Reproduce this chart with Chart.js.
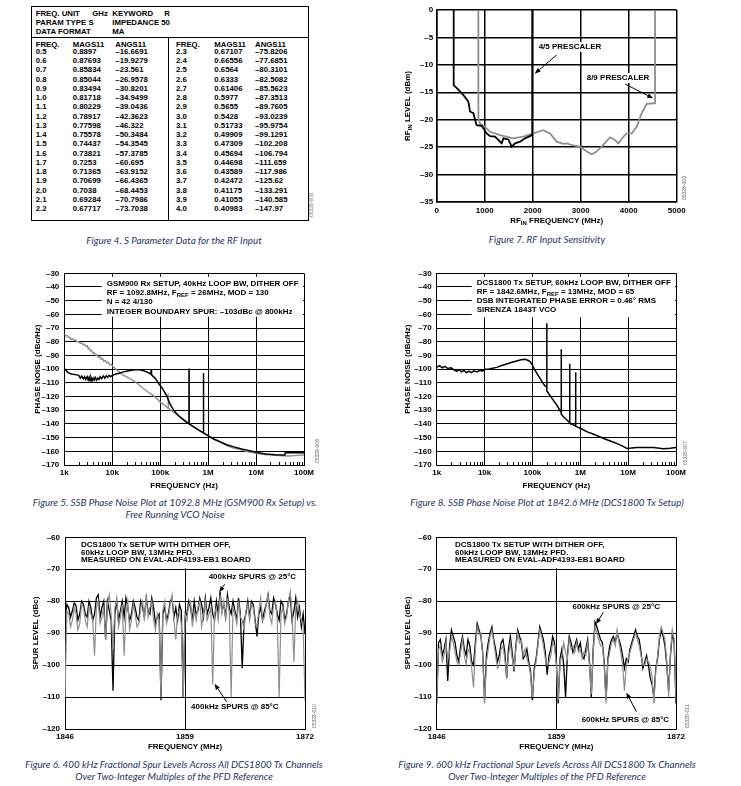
<!DOCTYPE html>
<html>
<head>
<meta charset="utf-8">
<script src="https://cdn.jsdelivr.net/npm/chart.js@4.4.1/dist/chart.umd.min.js"></script>
<style>
  body { margin: 0; width: 741px; height: 786px; background: #fff; position: relative; overflow: hidden;
         font-family: 'Liberation Sans', Arial, Helvetica, sans-serif; }
  canvas { position: absolute; }
  .t { position: absolute; font-weight: bold; font-size: 7.8px; line-height: 10px; white-space: nowrap; color: #000; }
  .cap { position: absolute; font-family: Lato, 'Liberation Sans', sans-serif; font-style: italic; font-size: 9.8px;
         line-height: 12px; color: #1f3560; white-space: nowrap; transform: translateX(-50%); }
  .id { position: absolute; font-size: 5px; line-height: 5px; color: #666; white-space: nowrap;
        transform: rotate(-90deg); transform-origin: left top; }
  .line { position: absolute; background: #000; }
</style>
</head>
<body>
<canvas id="c7"></canvas>
<canvas id="c5"></canvas>
<canvas id="c8"></canvas>
<canvas id="c6"></canvas>
<canvas id="c9"></canvas>

<script>
// ---- Figure 4: S parameter table ----
const sFreq = [0.5, 0.6, 0.7, 0.8, 0.9, 1.0, 1.1, 1.2, 1.3, 1.4, 1.5, 1.6, 1.7, 1.8, 1.9, 2.0, 2.1, 2.2,
  2.3, 2.4, 2.5, 2.6, 2.7, 2.8, 2.9, 3.0, 3.1, 3.2, 3.3, 3.4, 3.5, 3.6, 3.7, 3.8, 3.9, 4.0];
const sMag = [0.8897, 0.87693, 0.85834, 0.85044, 0.83494, 0.81718, 0.80229, 0.78917, 0.77598, 0.75578,
  0.74437, 0.73821, 0.7253, 0.71365, 0.70699, 0.7038, 0.69284, 0.67717, 0.67107, 0.66556, 0.6564, 0.6333,
  0.61406, 0.5977, 0.5655, 0.5428, 0.51733, 0.49909, 0.47309, 0.45694, 0.44698, 0.43589, 0.42472, 0.41175,
  0.41055, 0.40983];
const sAng = [-16.6691, -19.9279, -23.561, -26.9578, -30.8201, -34.9499, -39.0436, -42.3623, -46.322,
  -50.3484, -54.3545, -57.3785, -60.695, -63.9152, -66.4365, -68.4453, -70.7986, -73.7038, -75.8206,
  -77.6851, -80.3101, -82.5082, -85.5623, -87.3513, -89.7605, -93.0239, -95.9754, -99.1291, -102.208,
  -106.794, -111.659, -117.986, -125.62, -133.291, -140.585, -147.97];

// ---- Figure 7: RF input sensitivity [MHz, dBm] ----
const rfSens45 = [[354, 0], [354, -13.7], [451, -14.5], [556, -15.5], [660, -16.7], [694, -18.5], [764, -18.8],
  [799, -20], [833, -21], [937, -21.1], [1042, -22.5], [1111, -23], [1215, -23.1], [1285, -23.7], [1354, -24.3],
  [1389, -23.4], [1493, -23.6], [1563, -24.9], [1632, -24.3], [1736, -24], [1840, -23.4], [1990, -22.8], [1990, 0]];
const rfSens89 = [[868, 0], [868, -19.7], [903, -20.7], [1007, -21.3], [1111, -22.2], [1319, -22.8], [1597, -23.4],
  [1806, -23.1], [2014, -22.5], [2222, -21.9], [2361, -22.5], [2500, -24], [2639, -24.4], [2708, -24.3],
  [2847, -24.7], [2986, -24.9], [3125, -25.8], [3229, -26.3], [3333, -25.8], [3472, -24.6], [3611, -23.2],
  [3715, -23.7], [3785, -24.3], [3889, -23.1], [3958, -22.5], [4063, -22.5], [4167, -21.3], [4271, -18.8],
  [4375, -17.1], [4528, -17], [4549, -17], [4549, 0]];
const rfFreqTicks = [0, 1000, 2000, 3000, 4000, 5000];
const rfLevelTicks = [0, -5, -10, -15, -20, -25, -30, -35];

// ---- Figures 5 and 8: phase noise [Hz, dBc/Hz] ----
const pnTicks = [1e3, 1e4, 1e5, 1e6, 1e7, 1e8];
const pnTickLabels = ['1k', '10k', '100k', '1M', '10M', '100M'];
const pnLevels = [-30, -40, -50, -60, -70, -80, -90, -100, -110, -120, -130, -140, -150, -160, -170];
const gsmPll = [[1000, -99.5], [1100, -101], [1200, -102.5], [1400, -103.5], [1700, -104], [2000, -104.5],
  [2150, -106.5], [2300, -105], [2500, -107], [2650, -105.5], [2800, -107.5], [3000, -105.5], [3150, -108],
  [3300, -106], [3450, -108.5], [3600, -106], [3800, -108.5], [4000, -106.5], [4200, -108], [4400, -106],
  [4700, -108], [5000, -106.5], [5300, -107.5], [5600, -105.5], [6000, -107], [6500, -105], [7000, -106.5],
  [7500, -104.8], [8000, -106], [8600, -104.5], [9200, -105.5], [10000, -104.5], [12000, -103.5],
  [14000, -103], [17000, -102], [20000, -101.5], [25000, -100.8], [30000, -100.5], [37000, -100.5],
  [45000, -101.2], [52000, -102], [60000, -103], [64000, -103.8], [65000, -100], [66000, -104.2],
  [75000, -106], [84000, -108], [95000, -111], [106000, -113], [120000, -116], [135000, -119],
  [158000, -125], [180000, -128.5], [201000, -131], [240000, -134], [280000, -136], [330000, -138],
  [383000, -139.6], [398000, -140], [400000, -99.5], [402000, -140], [460000, -141.5], [520000, -142.5],
  [600000, -144], [700000, -145.5], [795000, -146.5], [800000, -103], [805000, -146.6], [900000, -147.7],
  [1000000, -148.6], [1300000, -151], [1750000, -153], [2400000, -155], [3300000, -156.6],
  [5000000, -158.3], [7300000, -159.5], [10000000, -160.7], [16000000, -162], [25000000, -162.5],
  [40000000, -162.7], [40500000, -161], [60000000, -161], [100000000, -161]];
const gsmVco = [[1000, -74.3], [1080, -75.8], [1150, -75.5], [1230, -77], [1300, -76.8], [1400, -78.2],
  [1500, -77.8], [1600, -79.2], [1700, -78.6], [1850, -80.2], [2000, -79.8], [2150, -81.2], [2300, -80.8],
  [2450, -82.2], [2600, -81.6], [2800, -83.2], [3000, -82.8], [3150, -85], [3300, -84.6], [3500, -86.6],
  [3700, -86.2], [3950, -88.4], [4200, -87.8], [4500, -89.8], [4800, -89.4], [5100, -91.4], [5500, -90.8],
  [5900, -92.8], [6300, -92.4], [6700, -94.2], [7200, -93.6], [7700, -95.4], [8300, -95], [8900, -96.8],
  [9500, -96.4], [10500, -98.2], [12000, -100], [14000, -102], [17000, -104.3], [21000, -106],
  [27500, -108.4], [35000, -111], [44000, -114], [55000, -116.5], [70000, -119], [85000, -121.5],
  [98000, -123.7], [115000, -125.5], [135000, -127.4], [146000, -128.5], [147000, -118], [148000, -128.6],
  [175000, -130.5], [218000, -132.7], [280000, -135.5], [356000, -138.3], [450000, -140.8],
  [574000, -143.2], [750000, -146], [1000000, -148.6], [1300000, -151], [1750000, -153], [2500000, -156],
  [3500000, -157.8], [4600000, -158.6], [6500000, -160.2], [10000000, -161.5], [15000000, -162.3],
  [22000000, -162.7], [35000000, -163.2], [50000000, -163.4], [70000000, -163], [100000000, -162.7]];
const dcsPll = [[1000, -98.5], [1150, -97.5], [1300, -99], [1500, -98], [1700, -99.5], [2000, -99],
  [2300, -100.5], [2600, -101.5], [3000, -100.5], [3300, -102], [3700, -101], [4200, -102.5], [4700, -101.5],
  [5300, -102.5], [6000, -101.2], [7000, -102], [8000, -100.8], [9000, -101.5], [10200, -100.1], [12000, -100],
  [14000, -99.5], [17900, -98.7], [22000, -97.5], [29000, -96.2], [36000, -95.2], [46800, -94], [58000, -93.2],
  [70000, -92.8], [80000, -93.5], [89000, -94.5], [100000, -97], [112000, -100.6], [128000, -103.8],
  [144000, -106.7], [165000, -110], [183000, -112.3], [199500, -113], [200000, -66.5], [200500, -116],
  [220000, -118], [252000, -121], [290000, -124], [320000, -126], [360000, -129], [398000, -131.5],
  [400000, -85.5], [402000, -133], [450000, -135], [519000, -137], [595000, -139], [600000, -96],
  [605000, -139.3], [700000, -140.5], [795000, -141.5], [800000, -102.3], [805000, -141.6], [900000, -142.5],
  [1050000, -143.5], [1400000, -145.8], [1850000, -147.4], [3000000, -150.5], [5300000, -153.7],
  [7500000, -156], [9300000, -157.8], [10000000, -158], [12000000, -157.5], [15000000, -157.3],
  [25000000, -157.3], [34000000, -157.3], [54000000, -158.2], [75000000, -157.8], [100000000, -157.3]];

// ---- Figures 6 and 9: fractional spurs across channels, 200kHz raster ----
const spurFreq = [
  1846.0, 1846.2, 1846.4, 1846.6, 1846.8, 1847.0, 1847.2, 1847.4, 1847.6, 1847.8,
  1848.0, 1848.2, 1848.4, 1848.6, 1848.8, 1849.0, 1849.2, 1849.4, 1849.6, 1849.8,
  1850.0, 1850.2, 1850.4, 1850.6, 1850.8, 1851.0, 1851.2, 1851.4, 1851.6, 1851.8,
  1852.0, 1852.2, 1852.4, 1852.6, 1852.8, 1853.0, 1853.2, 1853.4, 1853.6, 1853.8,
  1854.0, 1854.2, 1854.4, 1854.6, 1854.8, 1855.0, 1855.2, 1855.4, 1855.6, 1855.8,
  1856.0, 1856.2, 1856.4, 1856.6, 1856.8, 1857.0, 1857.2, 1857.4, 1857.6, 1857.8,
  1858.0, 1858.2, 1858.4, 1858.6, 1858.8, 1859.0, 1859.2, 1859.4, 1859.6, 1859.8,
  1860.0, 1860.2, 1860.4, 1860.6, 1860.8, 1861.0, 1861.2, 1861.4, 1861.6, 1861.8,
  1862.0, 1862.2, 1862.4, 1862.6, 1862.8, 1863.0, 1863.2, 1863.4, 1863.6, 1863.8,
  1864.0, 1864.2, 1864.4, 1864.6, 1864.8, 1865.0, 1865.2, 1865.4, 1865.6, 1865.8,
  1866.0, 1866.2, 1866.4, 1866.6, 1866.8, 1867.0, 1867.2, 1867.4, 1867.6, 1867.8,
  1868.0, 1868.2, 1868.4, 1868.6, 1868.8, 1869.0, 1869.2, 1869.4, 1869.6, 1869.8,
  1870.0, 1870.2, 1870.4, 1870.6, 1870.8, 1871.0, 1871.2, 1871.4, 1871.6, 1871.8,
  1872.0];
const spur400k25 = [
  -88, -81, -82, -85, -83, -80.5, -81.5, -86, -84, -80,
  -81, -84, -85, -80, -82, -86, -84, -79, -78, -85,
  -82, -80, -92, -80, -83, -86, -108, -84, -80, -86,
  -83, -80, -85, -79, -82, -86, -84, -80, -82, -85,
  -86, -80, -82, -85, -79, -83, -84, -79, -82, -87,
  -85, -84, -111, -84, -82, -86, -84, -80, -79, -85,
  -82, -86, -81, -83, -110, -85, -84, -80, -82, -86,
  -80, -84, -83, -79, -81, -85, -79, -84, -82, -79,
  -84, -86, -80, -84, -77, -83, -81, -85, -78, -82,
  -84, -80, -83, -86, -79, -84, -101, -86, -84, -80,
  -85, -80, -81, -86, -91, -84, -82, -86, -83, -81,
  -78, -83, -84, -79, -81, -84, -86, -80, -81, -86,
  -84, -80, -78, -86, -83, -79, -85, -82, -88, -84,
  -90];
const spur400k85 = [
  -110, -83, -84, -88, -86, -82, -84, -89, -87, -81,
  -82, -86, -88, -82, -84, -86, -97, -82, -80, -87,
  -85, -82, -92, -81, -78, -84, -95, -82, -79, -88,
  -85, -81, -97, -84, -80, -89, -86, -81, -84, -88,
  -87, -82, -80, -86, -78, -85, -82, -80, -86, -89,
  -84, -86, -110, -83, -80, -87, -85, -81, -78, -86,
  -92, -84, -83, -87, -110, -84, -86, -81, -80, -88,
  -83, -86, -82, -80, -88, -84, -80, -86, -84, -82,
  -106, -84, -82, -86, -78, -84, -80, -86, -79, -84,
  -110, -82, -84, -87, -80, -85, -86, -89, -83, -81,
  -86, -81, -82, -87, -88, -83, -79, -86, -85, -81,
  -78, -85, -87, -81, -80, -86, -110, -84, -82, -87,
  -85, -80, -77, -84, -99, -82, -80, -84, -86, -88,
  -111];
const spur600k25 = [
  -112, -93, -92, -97, -95, -92, -105, -94, -89, -91,
  -93, -97, -99, -94, -91, -95, -97, -92, -94, -99,
  -100, -93, -87, -89, -91, -96, -111, -97, -93, -90,
  -88, -92, -95, -99, -97, -93, -92, -96, -104, -95,
  -91, -96, -102, -94, -89, -91, -93, -98, -97, -95,
  -99, -102, -111, -101, -98, -93, -88, -90, -92, -96,
  -103, -97, -95, -91, -93, -99, -112, -98, -95, -100,
  -110, -97, -91, -93, -96, -94, -92, -95, -93, -97,
  -98, -95, -92, -99, -110, -95, -86.5, -88, -90, -92,
  -93, -99, -111, -98, -94, -92, -91, -93, -90, -92,
  -94, -97, -101, -98, -99, -95, -93, -91, -89, -91,
  -92, -96, -101, -99, -97, -100, -104, -106, -110, -101,
  -98, -92, -89, -91, -94, -100, -108, -97, -90, -93,
  -112];
const spur600k85 = [
  -112, -95, -94, -99, -97, -93, -98, -96, -91, -93,
  -96, -99, -100, -96, -92, -97, -100, -95, -96, -101,
  -107, -95, -88, -90, -90, -97, -112, -99, -95, -91,
  -89, -93, -97, -101, -100, -95, -94, -98, -103, -97,
  -93, -98, -101, -95, -90, -93, -92, -97, -95, -98,
  -100, -103, -110, -102, -99, -94, -89, -91, -94, -98,
  -100, -99, -97, -93, -94, -100, -111, -99, -97, -93,
  -96, -98, -92, -95, -94, -96, -93, -96, -95, -98,
  -96, -97, -93, -100, -109, -96, -88, -90, -92, -94,
  -94, -100, -112, -99, -96, -93, -92, -94, -89, -93,
  -96, -100, -108, -100, -98, -96, -94, -92, -90, -92,
  -94, -97, -100, -100, -98, -99, -100, -104, -112, -102,
  -97, -91, -88, -90, -92, -99, -110, -96, -89, -92,
  -111];
const spurTicks = [1846, 1859, 1872];
const spurLevels = [-60, -70, -80, -90, -100, -110, -120];

const FONT = "'Liberation Sans', Arial, Helvetica, sans-serif";
const GRAY = '#8e8e8e';
Chart.defaults.font.family = FONT;
Chart.defaults.font.size = 8;
Chart.defaults.font.weight = 'bold';
Chart.defaults.color = '#000';

const dash = (v) => (v < 0 ? '\u2013' + Math.abs(v) : String(v));
const pts = (arr) => arr.map(([x, y]) => ({ x, y }));
const zip = (xs, ys) => xs.map((x, i) => ({ x, y: ys[i] }));

function axis(o) {
  return {
    type: o.type || 'linear',
    min: o.min,
    max: o.max,
    afterBuildTicks: (s) => { s.ticks = o.ticks.map((v) => ({ value: v })); },
    afterFit: o.fit,
    grid: { color: '#000', lineWidth: o.lw || 1, drawTicks: false },
    border: { color: '#000', width: o.lw || 1 },
    ticks: { autoSkip: false, maxRotation: 0, padding: o.pad, callback: o.label, color: '#000' },
    title: o.title
      ? { display: true, text: o.title, padding: 0, color: '#000', font: { size: 8, weight: 'bold' } }
      : { display: false },
  };
}

// canvas rect (page px) and plot rect (page px) -> chart
function buildChart(id, cv, plot, xOpt, yOpt, datasets, plugins) {
  const el = document.getElementById(id);
  el.style.left = cv.x + 'px';
  el.style.top = cv.y + 'px';
  el.width = cv.w;
  el.height = cv.h;
  xOpt.fit = (s) => { s.height = cv.y + cv.h - plot.b; };
  yOpt.fit = (s) => { s.width = plot.l - cv.x; };
  return new Chart(el, {
    type: 'line',
    data: { datasets },
    options: {
      responsive: false,
      animation: false,
      events: [],
      layout: { padding: { left: 0, bottom: 0, top: plot.t - cv.y, right: cv.x + cv.w - plot.r } },
      plugins: { legend: { display: false }, tooltip: { enabled: false } },
      elements: { point: { radius: 0 }, line: { tension: 0 } },
      scales: { x: axis(xOpt), y: axis(yOpt) },
    },
    plugins,
  });
}

// text with optional subscripts: parts = ['RF', {sub: 'IN'}, ' ...']
function rich(ctx, parts, x, y, align) {
  const seg = parts.map((p) => (typeof p === 'string' ? { t: p, s: 8, dy: 0 } : { t: p.sub, s: 6, dy: 2.5 }));
  let w = 0;
  seg.forEach((g) => { ctx.font = `bold ${g.s}px ${FONT}`; w += ctx.measureText(g.t).width; });
  let cx = align === 'center' ? x - w / 2 : x;
  ctx.textAlign = 'left';
  seg.forEach((g) => {
    ctx.font = `bold ${g.s}px ${FONT}`;
    ctx.fillText(g.t, cx, y + g.dy);
    cx += ctx.measureText(g.t).width;
  });
}

function arrow(ctx, x0, y0, x1, y1) {
  const a = Math.atan2(y1 - y0, x1 - x0), L = 6, W = 2.3;
  const bx = x1 - L * Math.cos(a), by = y1 - L * Math.sin(a);
  ctx.lineWidth = 1;
  ctx.beginPath();
  ctx.moveTo(x0, y0);
  ctx.lineTo(bx, by);
  ctx.stroke();
  ctx.beginPath();
  ctx.moveTo(x1, y1);
  ctx.lineTo(bx + W * Math.sin(a), by - W * Math.cos(a));
  ctx.lineTo(bx - W * Math.sin(a), by + W * Math.cos(a));
  ctx.closePath();
  ctx.fill();
}

function overlay(o) {
  return {
    id: 'overlay',
    beforeDatasetsDraw(chart) {
      if (!o.box) return;
      const { ctx, chartArea: a, scales } = chart;
      const top = a.top + o.box.top;
      const bottom = o.box.toY !== undefined ? scales.y.getPixelForValue(o.box.toY) - 1 : a.top + o.box.bottom;
      ctx.save();
      ctx.fillStyle = '#fff';
      ctx.fillRect(a.left + o.box.left, top, a.right - 1 - (a.left + o.box.left), bottom - top);
      ctx.restore();
    },
    afterDatasetsDraw(chart) {
      const { ctx, chartArea: a, scales: { x, y } } = chart;
      ctx.save();
      ctx.fillStyle = '#000';
      ctx.strokeStyle = '#000';
      ctx.textBaseline = 'middle';
      if (o.minor) {
        ctx.lineWidth = 1;
        ctx.beginPath();
        o.minor.forEach((v) => {
          const p = Math.round(x.getPixelForValue(v)) + 0.5;
          ctx.moveTo(p, a.bottom);
          ctx.lineTo(p, a.bottom - 3);
        });
        ctx.stroke();
      }
      (o.lines || []).forEach((l) => rich(ctx, l.parts, a.left + l.dx, a.top + l.dy));
      (o.notes || []).forEach((n) => {
        const px = x.getPixelForValue(n.x), py = y.getPixelForValue(n.y);
        ctx.font = `bold 8px ${FONT}`;
        const w = ctx.measureText(n.text).width;
        ctx.fillStyle = '#fff';
        ctx.fillRect(px - w / 2 - 1.5, py - 5, w + 3, 10);
        ctx.fillStyle = '#000';
        ctx.textAlign = 'center';
        ctx.fillText(n.text, px, py);
      });
      (o.arrows || []).forEach((r) => {
        arrow(ctx, x.getPixelForValue(r[0]), y.getPixelForValue(r[1]),
          x.getPixelForValue(r[2]), y.getPixelForValue(r[3]));
      });
      if (o.rfTitles) {
        rich(ctx, ['RF', { sub: 'IN' }, ' FREQUENCY (MHz)'], (a.left + a.right) / 2, a.bottom + 19, 'center');
        ctx.translate(a.left - 28.7, (a.top + a.bottom) / 2);
        ctx.rotate(-Math.PI / 2);
        rich(ctx, ['RF', { sub: 'IN' }, ' LEVEL (dBm)'], 0, 0, 'center');
      }
      ctx.restore();
    },
  };
}

const logMinor = [];
pnTicks.slice(0, -1).forEach((d) => { for (let m = 2; m <= 9; m++) logMinor.push(d * m); });
const pnLabel = (v, i) => pnTickLabels[i];

// Figure 7
buildChart('c7', { x: 391, y: 0, w: 306, h: 232 }, { l: 436.7, t: 10, r: 676.7, b: 202 },
  { min: 0, max: 5000, ticks: rfFreqTicks, pad: 4, lw: 1.5, label: (v) => String(v) },
  { min: -35, max: 0, ticks: rfLevelTicks, pad: 3.5, lw: 1.5, label: dash },
  [
    { data: pts(rfSens45), borderColor: '#000', borderWidth: 1.8 },
    { data: pts(rfSens89), borderColor: GRAY, borderWidth: 1.8 },
  ],
  [overlay({
    rfTitles: true,
    notes: [{ text: '4/5 PRESCALER', x: 2777, y: -6.7 }, { text: '8/9 PRESCALER', x: 3778, y: -12.4 }],
    arrows: [[2500, -8.2, 2040, -11.6], [3924, -13.5, 4510, -16.1]],
  })]);

// Figure 5
buildChart('c5', { x: 33, y: 262, w: 291, h: 229 }, { l: 64.3, t: 273.3, r: 304, b: 465 },
  { type: 'logarithmic', min: 1e3, max: 1e8, ticks: pnTicks, pad: 2.5, label: pnLabel, title: 'FREQUENCY (Hz)' },
  { min: -170, max: -30, ticks: pnLevels, pad: 5, label: dash, title: 'PHASE NOISE (dBc/Hz)' },
  [
    { data: pts(gsmPll), borderColor: '#000', borderWidth: 1.5 },
    { data: pts(gsmVco), borderColor: GRAY, borderWidth: 1.4 },
  ],
  [overlay({
    minor: logMinor,
    box: { left: 37.4, top: 3.4, bottom: 43.4 },
    lines: [
      { parts: ['GSM900 Rx SETUP, 40kHz LOOP BW, DITHER OFF'], dx: 42.4, dy: 10.7 },
      { parts: ['RF = 1092.8MHz, F', { sub: 'REF' }, ' = 26MHz, MOD = 130'], dx: 42.4, dy: 19.5 },
      { parts: ['N = 42 4/130'], dx: 42.4, dy: 28.7 },
      { parts: ['INTEGER BOUNDARY SPUR: \u2013103dBc @ 800kHz'], dx: 42.4, dy: 38.2 },
    ],
  })]);

// Figure 8
buildChart('c8', { x: 403, y: 262, w: 293, h: 229 }, { l: 436.7, t: 273.3, r: 676, b: 465 },
  { type: 'logarithmic', min: 1e3, max: 1e8, ticks: pnTicks, pad: 2.5, label: pnLabel, title: 'FREQUENCY (Hz)' },
  { min: -170, max: -30, ticks: pnLevels, pad: 5, label: dash, title: 'PHASE NOISE (dBc/Hz)' },
  [{ data: pts(dcsPll), borderColor: '#000', borderWidth: 1.5 }],
  [overlay({
    minor: logMinor,
    box: { left: 35, top: 3.4, bottom: 44 },
    lines: [
      { parts: ['DCS1800 Tx SETUP, 60kHz LOOP BW, DITHER OFF'], dx: 40, dy: 9.4 },
      { parts: ['RF = 1842.6MHz, F', { sub: 'REF' }, ' = 13MHz, MOD = 65'], dx: 40, dy: 18.4 },
      { parts: ['DSB INTEGRATED PHASE ERROR = 0.46\u00b0 RMS'], dx: 40, dy: 27 },
      { parts: ['SIRENZA 1843T VCO'], dx: 40, dy: 36.7 },
    ],
  })]);

const spurBoxLines = (dx) => [
  { parts: ['DCS1800 Tx SETUP WITH DITHER OFF,'], dx, dy: 7 },
  { parts: ['60kHz LOOP BW, 13MHz PFD.'], dx, dy: 15 },
  { parts: ['MEASURED ON EVAL-ADF4193-EB1 BOARD'], dx, dy: 22.4 },
];

// Figure 6
buildChart('c6', { x: 31, y: 527, w: 294, h: 225 }, { l: 65, t: 537.3, r: 305, b: 729 },
  { min: 1846, max: 1872, ticks: spurTicks, pad: 3.2, label: (v) => String(v), title: 'FREQUENCY (MHz)' },
  { min: -120, max: -60, ticks: spurLevels, pad: 5, label: dash, title: 'SPUR LEVEL (dBc)' },
  [
    { data: zip(spurFreq, spur400k85), borderColor: GRAY, borderWidth: 1.2 },
    { data: zip(spurFreq, spur400k25), borderColor: '#000', borderWidth: 1.3 },
  ],
  [overlay({
    box: { left: 1, top: 1, toY: -70 },
    lines: spurBoxLines(16),
    notes: [{ text: '400kHz SPURS @ 25\u00b0C', x: 1866.3, y: -72.5 },
            { text: '400kHz SPURS @ 85\u00b0C', x: 1864.4, y: -113.2 }],
    arrows: [[1863.3, -74.7, 1862.7, -77.2], [1863.5, -111.5, 1862.2, -105.8]],
  })]);

// Figure 9
buildChart('c9', { x: 403, y: 527, w: 293, h: 225 }, { l: 436.7, t: 537.3, r: 676, b: 729 },
  { min: 1846, max: 1872, ticks: spurTicks, pad: 3.2, label: (v) => String(v), title: 'FREQUENCY (MHz)' },
  { min: -120, max: -60, ticks: spurLevels, pad: 5, label: dash, title: 'SPUR LEVEL (dBc)' },
  [
    { data: zip(spurFreq, spur600k85), borderColor: GRAY, borderWidth: 1.2 },
    { data: zip(spurFreq, spur600k25), borderColor: '#000', borderWidth: 1.3 },
  ],
  [overlay({
    box: { left: 1, top: 1, toY: -70 },
    lines: spurBoxLines(18.3),
    notes: [{ text: '600kHz SPURS @ 25\u00b0C', x: 1865.5, y: -81.9 },
            { text: '600kHz SPURS @ 85\u00b0C', x: 1866.5, y: -117.2 }],
    arrows: [[1864.1, -83.5, 1863.3, -87.2], [1867.7, -114.6, 1866.6, -108.6]],
  })]);

// ---- HTML text: table, captions, figure ids ----
function put(cls, text, x, y) {
  const d = document.createElement('div');
  d.className = cls;
  d.style.left = x + 'px';
  d.style.top = y + 'px';
  d.textContent = text;
  document.body.appendChild(d);
  return d;
}
function rule(x, y, w, h) {
  const d = document.createElement('div');
  d.className = 'line';
  Object.assign(d.style, { left: x + 'px', top: y + 'px', width: w + 'px', height: h + 'px' });
  document.body.appendChild(d);
}

// table frame
rule(31, 5.5, 277, 1); rule(31, 220, 278, 1); rule(31, 5.5, 1, 215); rule(308, 5.5, 1, 215);
rule(31, 36.5, 277, 1); rule(168, 36.5, 1, 184);
const cell = (text, x, yc) => put('t', text, x, yc - 5);
cell('FREQ. UNIT', 35.7, 14); cell('GHz', 92.3, 14); cell('KEYWORD', 112.3, 14); cell('R', 164.3, 14);
cell('PARAM TYPE S', 35.7, 23.3); cell('IMPEDANCE 50', 112.3, 23.3);
cell('DATA FORMAT', 35.7, 32.3); cell('MA', 112.3, 32.3);
[[35.7, 72.7, 115.3], [176, 214.3, 255]].forEach((cols, b) => {
  cell('FREQ.', cols[0], 44.7); cell('MAGS11', cols[1], 44.7); cell('ANGS11', cols[2], 44.7);
  for (let i = 0; i < 18; i++) {
    const k = b * 18 + i, yc = 51.7 + i * 9.27;
    cell(sFreq[k].toFixed(1), cols[0], yc);
    cell(String(sMag[k]), cols[1], yc);
    cell(dash(sAng[k]), cols[2], yc);
  }
});

const caps = [
  ['Figure 4. S Parameter Data for the RF Input', 174, 234],
  ['Figure 7. RF Input Sensitivity', 547, 233],
  ['Figure 5. SSB Phase Noise Plot at 1092.8 MHz (GSM900 Rx Setup) vs.', 175, 496],
  ['Free Running VCO Noise', 175, 508],
  ['Figure 8. SSB Phase Noise Plot at 1842.6 MHz (DCS1800 Tx Setup)', 547, 496],
  ['Figure 6. 400 kHz Fractional Spur Levels Across All DCS1800 Tx Channels', 174, 758],
  ['Over Two-Integer Multiples of the PFD Reference', 174, 770],
  ['Figure 9. 600 kHz Fractional Spur Levels Across All DCS1800 Tx Channels', 547, 758],
  ['Over Two-Integer Multiples of the PFD Reference', 547, 770],
];
caps.forEach(([t, x, y]) => put('cap', t, x, y));

[['05328-008', 309, 217], ['05328-009', 682, 200], ['05328-006', 315, 463],
 ['05328-007', 683, 465], ['05328-010', 312, 728], ['05328-011', 685, 728]]
  .forEach(([t, x, y]) => put('id', t, x, y));
</script>
</body>
</html>
